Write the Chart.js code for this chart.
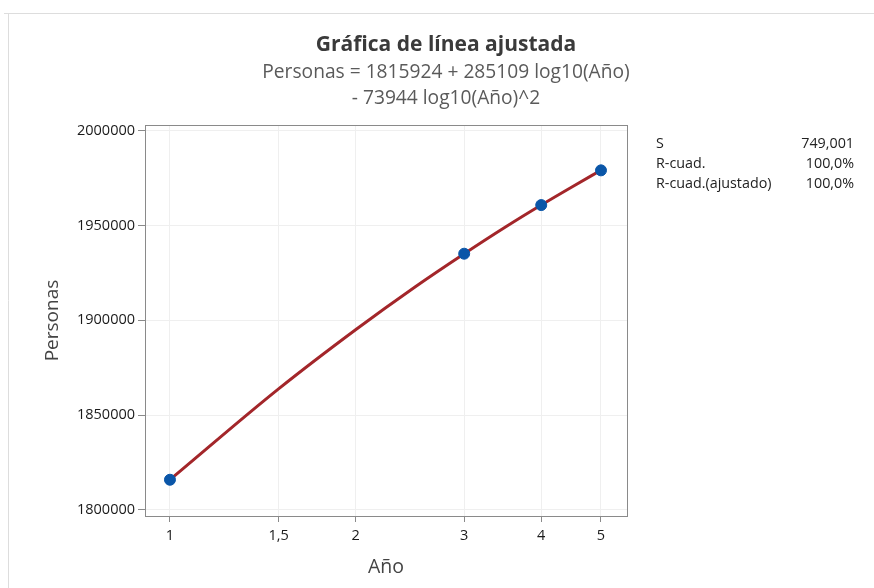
<!DOCTYPE html>
<html>
<head>
<meta charset="utf-8">
<script src="https://cdn.jsdelivr.net/npm/chart.js@4.4.0/dist/chart.umd.min.js"></script>
<style>
  html, body { margin: 0; padding: 0; background: #fff; }
  #wrap { position: relative; width: 874px; height: 588px; }
</style>
</head>
<body>
<div id="wrap"><canvas id="chart" width="874" height="588"></canvas></div>
<script>
// observed points (Año, Personas)
const obsYears = [1, 3, 4, 5];
const obsPersonas = [1815924, 1935121, 1960773, 1979081];

// fitted curve
const fitYears = [1, 1.5, 2, 2.5, 3, 3.5, 4, 4.5, 5];
const fitPersonas = [1815900, 1863800, 1895000, 1917700, 1935100, 1949200, 1960800, 1970600, 1979100];

const xTicks = [1, 1.5, 2, 3, 4, 5];
const yTicks = [1800000, 1850000, 1900000, 1950000, 2000000];

const titleText = "Gráfica de línea ajustada";
const subtitleLines = ["Personas = 1815924 + 285109 log10(Año)", "- 73944 log10(Año)^2"];

const statLabels = ["S", "R-cuad.", "R-cuad.(ajustado)"];
const statValues = ["749,001", "100,0%", "100,0%"];

const FONT = "'Open Sans', 'Noto Sans', sans-serif";

const extras = {
  id: "extras",
  beforeDraw(chart) {
    const ctx = chart.ctx;
    ctx.save();
    ctx.strokeStyle = "#dddddd";
    ctx.lineWidth = 1;
    ctx.beginPath();
    ctx.moveTo(4, 13.5); ctx.lineTo(874, 13.5);
    ctx.moveTo(8.5, 13); ctx.lineTo(8.5, 588);
    ctx.stroke();
    ctx.restore();
  },
  afterDatasetsDraw(chart) {
    const ctx = chart.ctx;
    const a = chart.chartArea;
    ctx.save();
    ctx.strokeStyle = "#8a8a8a";
    ctx.lineWidth = 1;
    ctx.strokeRect(Math.round(a.left) + 0.5, Math.round(a.top) + 0.5,
      Math.round(a.right - a.left), Math.round(a.bottom - a.top));

    // title block
    ctx.textAlign = "center";
    ctx.textBaseline = "middle";
    ctx.fillStyle = "#3a3a3a";
    ctx.font = "bold 21px " + FONT;
    ctx.fillText(titleText, 446, 45);
    ctx.fillStyle = "#5a5a5a";
    ctx.font = "19.2px " + FONT;
    subtitleLines.forEach((s, i) => ctx.fillText(s, 446, 73 + i * 26));

    // stats
    ctx.fillStyle = "#222";
    ctx.font = "14.3px " + FONT;
    statLabels.forEach((s, i) => {
      const y = 144 + i * 20;
      ctx.textAlign = "left";
      ctx.fillText(s, 656, y);
      ctx.textAlign = "right";
      ctx.fillText(statValues[i], 854, y);
    });
    ctx.restore();
  }
};

new Chart(document.getElementById("chart"), {
  type: "scatter",
  data: {
    datasets: [
      {
        type: "line",
        data: fitYears.map((x, i) => ({ x: x, y: fitPersonas[i] })),
        borderColor: "#a3262a",
        borderWidth: 3,
        pointRadius: 0,
        cubicInterpolationMode: "monotone",
        fill: false,
        order: 2
      },
      {
        data: obsYears.map((x, i) => ({ x: x, y: obsPersonas[i] })),
        backgroundColor: "#0a56a8",
        borderColor: "#0a56a8",
        pointRadius: 5.5,
        order: 1
      }
    ]
  },
  plugins: [extras],
  options: {
    responsive: false,
    animation: false,
    layout: { padding: { left: 37, right: 247, bottom: 5, top: 125 } },
    plugins: {
      legend: { display: false },
      tooltip: { enabled: false }
    },
    scales: {
      x: {
        type: "logarithmic",
        min: 0.911,
        max: 5.51,
        afterBuildTicks(scale) { scale.ticks = xTicks.map(v => ({ value: v })); },
        afterFit(scale) { scale.height = 67; },
        ticks: {
          color: "#1a1a1a",
          font: { family: FONT, size: 14.5, weight: "500" },
          padding: 5,
          maxRotation: 0,
          autoSkip: false,
          callback: v => String(v).replace(".", ",")
        },
        grid: { color: "#efefef", tickColor: "#8a8a8a", tickLength: 6 },
        border: { color: "#8a8a8a" },
        title: {
          display: true,
          text: "Año",
          color: "#444",
          font: { family: FONT, size: 19.5 },
          padding: { top: 4, bottom: 4 }
        }
      },
      y: {
        min: 1796800,
        max: 2003000,
        afterBuildTicks(scale) { scale.ticks = yTicks.map(v => ({ value: v })); },
        afterFit(scale) { scale.width = 108; },
        ticks: {
          color: "#1a1a1a",
          font: { family: FONT, size: 14.5, weight: "500" },
          padding: 3,
          callback: v => String(v)
        },
        grid: { color: "#efefef", tickColor: "#8a8a8a", tickLength: 7 },
        border: { color: "#8a8a8a" },
        title: {
          display: true,
          text: "Personas",
          color: "#444",
          font: { family: FONT, size: 19 },
          padding: { top: 4, bottom: 4 }
        }
      }
    }
  }
});
</script>
</body>
</html>
